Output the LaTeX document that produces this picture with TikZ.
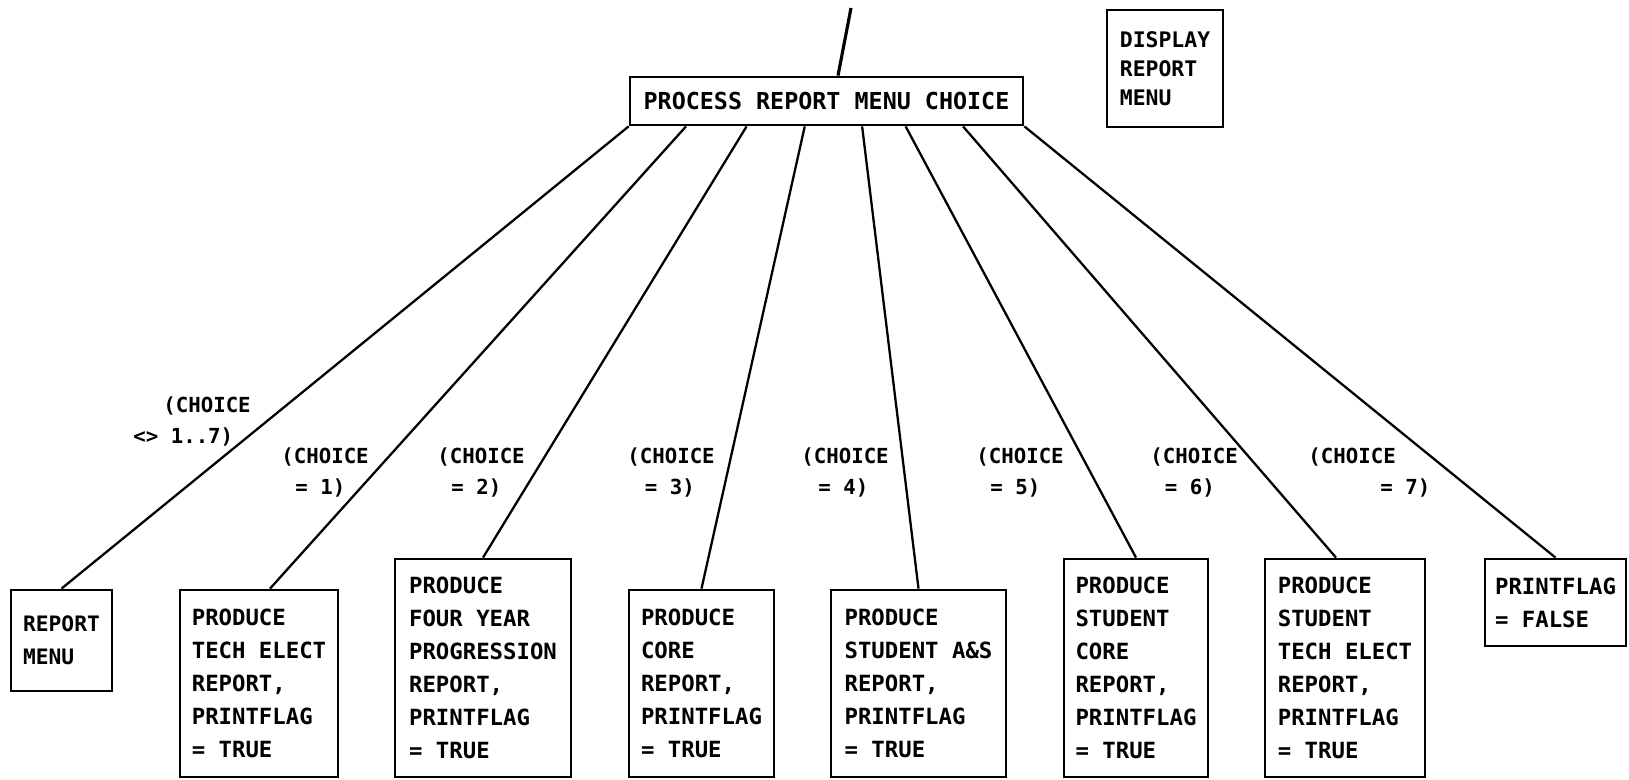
\documentclass[tikz,border=0pt]{standalone}
\usepackage{fontspec}
\setmonofont{DejaVu Sans Mono}
\usetikzlibrary{calc}

\tikzset{
  stepbox/.style={rectangle, draw, line width=1.6pt, align=left, inner sep=0pt,
    font=\ttfamily\bfseries\fontsize{12.7}{18.8}\selectfont},
  condlabel/.style={align=left, inner sep=0pt, anchor=north west,
    font=\ttfamily\bfseries\fontsize{11.8}{17.8}\selectfont},
  branch/.style={line width=1.3pt}
}

\begin{document}
\begin{tikzpicture}[x=0.02cm, y=-0.02cm]
\useasboundingbox (0,0) rectangle (1629,780);

% Top level
\node[stepbox, minimum width=7.86cm, minimum height=0.96cm, font=\ttfamily\bfseries\fontsize{13.3}{18.8}\selectfont] (proc) at (826.5,101) {PROCESS REPORT MENU CHOICE};
\node[stepbox, minimum width=2.32cm, minimum height=2.34cm, font=\ttfamily\bfseries\fontsize{12.2}{16.5}\selectfont] (disp) at (1165,68.5) {DISPLAY\\REPORT\\MENU};
\coordinate (entry) at (851,8);
\draw[branch, line width=1.8pt] (entry) -- ([xshift=0.23cm]proc.north);

% Actions
\node[stepbox, minimum width=2.02cm, minimum height=2.02cm, font=\ttfamily\bfseries\fontsize{12.1}{18.8}\selectfont] (act1) at (61.5,640.5) {REPORT\\MENU};
\node[stepbox, minimum width=3.16cm, minimum height=3.74cm] (act2) at (259,683.5) {PRODUCE\\TECH ELECT\\REPORT,\\PRINTFLAG\\= TRUE};
\node[stepbox, minimum width=3.52cm, minimum height=4.36cm] (act3) at (483,668) {PRODUCE\\FOUR YEAR\\PROGRESSION\\REPORT,\\PRINTFLAG\\= TRUE};
\node[stepbox, minimum width=2.9cm, minimum height=3.74cm] (act4) at (701.5,683.5) {PRODUCE\\CORE\\REPORT,\\PRINTFLAG\\= TRUE};
\node[stepbox, minimum width=3.5cm, minimum height=3.74cm] (act5) at (918.5,683.5) {PRODUCE\\STUDENT A\&S\\REPORT,\\PRINTFLAG\\= TRUE};
\node[stepbox, minimum width=2.88cm, minimum height=4.36cm] (act6) at (1136,668) {PRODUCE\\STUDENT\\CORE\\REPORT,\\PRINTFLAG\\= TRUE};
\node[stepbox, minimum width=3.2cm, minimum height=4.36cm] (act7) at (1345,668) {PRODUCE\\STUDENT\\TECH ELECT\\REPORT,\\PRINTFLAG\\= TRUE};
\node[stepbox, minimum width=2.82cm, minimum height=1.74cm] (act8) at (1555.5,602.5) {PRINTFLAG\\= FALSE};

% Branches
\draw[branch] (proc.south west) -- (act1.north);
\draw[branch] ($(proc.south west)!.145!(proc.south east)$) -- ([xshift=0.22cm]act2.north);
\draw[branch] ($(proc.south west)!.298!(proc.south east)$) -- (act3.north);
\draw[branch] ($(proc.south west)!.445!(proc.south east)$) -- (act4.north);
\draw[branch] ($(proc.south west)!.590!(proc.south east)$) -- (act5.north);
\draw[branch] ($(proc.south west)!.700!(proc.south east)$) -- (act6.north);
\draw[branch] ($(proc.south west)!.845!(proc.south east)$) -- ([xshift=-0.18cm]act7.north);
\draw[branch] (proc.south east) -- (act8.north);

% Conditions
\node[condlabel] (cond1) at (133,396) {\hspace*{0.6cm}(CHOICE\\<> 1..7)};
\node[condlabel] (cond2) at (281,447) {(CHOICE\\\hspace*{0.28cm}= 1)};
\node[condlabel] (cond3) at (437,447) {(CHOICE\\\hspace*{0.28cm}= 2)};
\node[condlabel] (cond4) at (627,447) {(CHOICE\\\hspace*{0.35cm}= 3)};
\node[condlabel] (cond5) at (801,447) {(CHOICE\\\hspace*{0.34cm}= 4)};
\node[condlabel] (cond6) at (976,447) {(CHOICE\\\hspace*{0.28cm}= 5)};
\node[condlabel] (cond7) at (1150,447) {(CHOICE\\\hspace*{0.29cm}= 6)};
\node[condlabel] (cond8) at (1308,447) {(CHOICE\\\hspace*{1.44cm}= 7)};
\end{tikzpicture}
\end{document}
